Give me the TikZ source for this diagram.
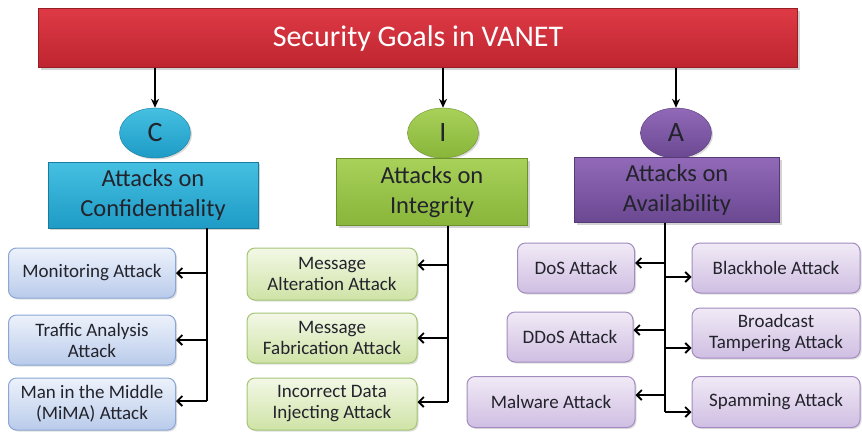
\documentclass[tikz,border=0pt]{standalone}
\usepackage{fontspec}
\setmainfont{Carlito}
\usetikzlibrary{arrows.meta,shapes.geometric,shadows}
\definecolor{titleTop}{HTML}{DE3A45}
\definecolor{titleBot}{HTML}{BE2530}
\definecolor{cTop}{HTML}{45C0E2}
\definecolor{cBot}{HTML}{1E9BC6}
\definecolor{iTop}{HTML}{A8D15A}
\definecolor{iBot}{HTML}{88B53A}
\definecolor{aTop}{HTML}{9169B8}
\definecolor{aBot}{HTML}{6B4892}
\definecolor{cLtTop}{HTML}{EDF2FB}
\definecolor{cLtBot}{HTML}{B9CBEB}
\definecolor{cLtDr}{HTML}{8AA6D4}
\definecolor{iLtTop}{HTML}{F3F8E6}
\definecolor{iLtBot}{HTML}{CFE3A6}
\definecolor{iLtDr}{HTML}{A5C575}
\definecolor{aLtTop}{HTML}{F1EAF6}
\definecolor{aLtBot}{HTML}{CFBEE2}
\definecolor{aLtDr}{HTML}{A28CBF}
\definecolor{txtDark}{HTML}{23232C}
\begin{document}
\begin{tikzpicture}[x=1pt,y=-1pt,
  titlebox/.style={draw=titleBot!80!black, line width=0.4pt, top color=titleTop, bottom color=titleBot,
    minimum width=759pt, minimum height=59pt, inner sep=0pt, text=white, font=\fontsize{30}{34}\selectfont,
    drop shadow={shadow xshift=2pt,shadow yshift=-2pt,opacity=0.35}},
  goal/.style={ellipse, draw=#1Bot!80!black, line width=0.4pt, top color=#1Top, bottom color=#1Bot,
    minimum width=71pt, minimum height=50pt, inner sep=0pt, text=txtDark, font=\fontsize{28}{32}\selectfont,
    drop shadow={shadow xshift=1.5pt,shadow yshift=-1.5pt,opacity=0.3}},
  catbox/.style={draw=#1Bot!80!black, line width=0.4pt, top color=#1Top, bottom color=#1Bot,
    inner sep=0pt, text=txtDark, align=center, font=\fontsize{24.5}{30}\selectfont,
    drop shadow={shadow xshift=2pt,shadow yshift=-2pt,opacity=0.35}},
  leaf/.style={rounded corners=8pt, draw=#1LtDr, line width=1pt, top color=#1LtTop, bottom color=#1LtBot,
    inner sep=0pt, text=txtDark, align=center, font=\fontsize{19}{21}\selectfont,
    drop shadow={shadow xshift=1.5pt,shadow yshift=-1.5pt,opacity=0.25}},
  down/.style={-{Stealth[length=9pt,width=8pt]}, line width=1.4pt},
  spine/.style={line width=1.8pt},
  toleaf/.style={-{Straight Barb[length=5pt,width=10pt]}, line width=1.8pt}
]
\useasboundingbox (0,0) rectangle (862,432);

% title
\node[titlebox] (title) at (418,38) {Security Goals in VANET};

% goals
\node[goal=c] (gc) at (155,133) {C};
\node[goal=i] (gi) at (443,133) {I};
\node[goal=a] (ga) at (676,133) {A};

% categories
\node[catbox=c, minimum width=210pt, minimum height=66pt] (cc) at (153,195) {Attacks on\\Confidentiality};
\node[catbox=i, minimum width=191pt, minimum height=67pt] (ci) at (432,192) {Attacks on\\Integrity};
\node[catbox=a, minimum width=205pt, minimum height=65pt] (ca) at (677,190) {Attacks on\\Availability};

% title arrows
\coordinate (tc) at (gc.north |- title.south);
\coordinate (ti) at (gi.north |- title.south);
\coordinate (ta) at (ga.north |- title.south);
\draw[down] (tc) -- (gc.north);
\draw[down] (ti) -- (gi.north);
\draw[down] (ta) -- (ga.north);

% confidentiality leaves
\node[leaf=c, minimum width=167pt, minimum height=50pt] (mon) at (92,273) {Monitoring Attack};
\node[leaf=c, minimum width=167pt, minimum height=50pt] (tra) at (92,340) {Traffic Analysis\\Attack};
\node[leaf=c, minimum width=167pt, minimum height=52pt] (mim) at (92,404) {Man in the Middle\\(MiMA)  Attack};
\coordinate (cs) at (207,0 |- cc.south);
\coordinate (ce) at (207,401);
\draw[spine] (cs) -- (ce);
\draw[toleaf] (cs |- mon.east) -- (mon.east);
\draw[toleaf] (cs |- tra.east) -- (tra.east);
\draw[toleaf] (ce) -- (ce -| mim.east);

% integrity leaves
\node[leaf=i, minimum width=170pt, minimum height=52pt] (alt) at (332,274) {Message\\Alteration Attack};
\node[leaf=i, minimum width=170pt, minimum height=50pt] (fab) at (332,338) {Message\\Fabrication Attack};
\node[leaf=i, minimum width=170pt, minimum height=52pt] (inc) at (332,404) {Incorrect Data\\Injecting Attack};
\coordinate (is) at (448,0 |- ci.south);
\coordinate (ie) at (448,402);
\draw[spine] (is) -- (ie);
\draw[toleaf] ([yshift=9pt]is |- alt.east) -- ([yshift=9pt]alt.east);
\draw[toleaf] (is |- fab.east) -- (fab.east);
\draw[toleaf] (ie) -- (ie -| inc.east);

% availability leaves
\node[leaf=a, minimum width=117pt, minimum height=50pt] (dos) at (576,268) {DoS Attack};
\node[leaf=a, minimum width=126pt, minimum height=50pt] (ddos) at (570,337) {DDoS Attack};
\node[leaf=a, minimum width=168pt, minimum height=51pt] (mal) at (551,402) {Malware Attack};
\node[leaf=a, minimum width=168pt, minimum height=50pt] (blk) at (776,268) {Blackhole Attack};
\node[leaf=a, minimum width=168pt, minimum height=50pt] (brd) at (776,333) {Broadcast\\Tampering Attack};
\node[leaf=a, minimum width=168pt, minimum height=51pt] (spm) at (776,402) {Spamming Attack};
\coordinate (as) at (665,0 |- ca.south);
\coordinate (ae) at (665,412);
\draw[spine] (as) -- (ae);
\draw[toleaf] ([yshift=5pt]as |- dos.east) -- ([yshift=5pt]dos.east);
\draw[toleaf] ([yshift=7pt]as |- ddos.east) -- ([yshift=7pt]ddos.east);
\draw[toleaf] ([yshift=7pt]as |- mal.east) -- ([yshift=7pt]mal.east);
\draw[toleaf] ([yshift=-9pt]as |- blk.west) -- ([yshift=-9pt]blk.west);
\draw[toleaf] ([yshift=-15pt]as |- brd.west) -- ([yshift=-15pt]brd.west);
\draw[toleaf] (ae) -- (ae -| spm.west);
\end{tikzpicture}
\end{document}
